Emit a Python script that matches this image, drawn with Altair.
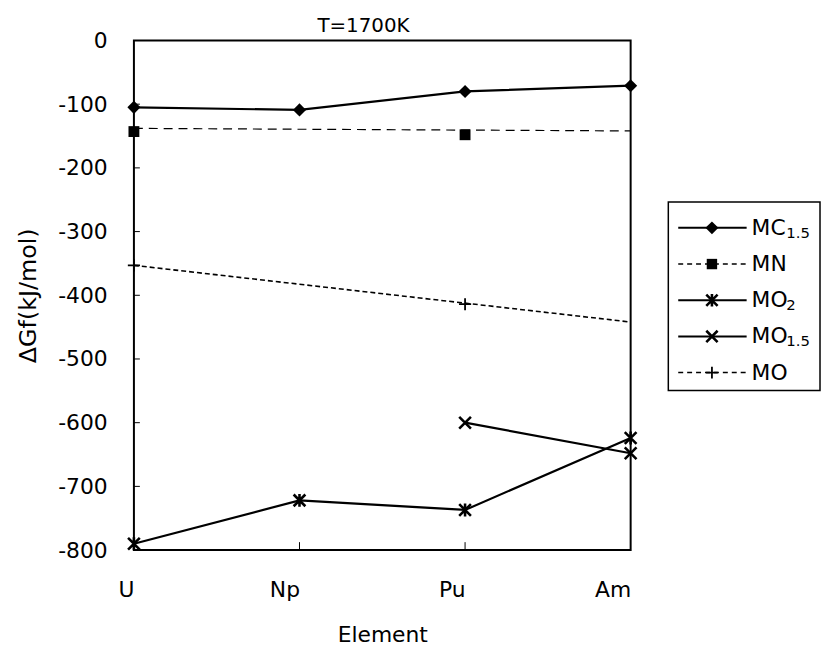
import altair as alt
import pandas as pd

# ---------------- data ----------------
categories = ["U", "Np", "Pu", "Am"]

mc15_values = [-105, -109, -80, -71]          # MC1.5 at U, Np, Pu, Am
mn_cats = ["U", "Pu"]
mn_values = [-143, -148]                      # MN markers
mn_line_cats = ["U", "Am"]
mn_line_values = [-138, -142]                 # MN dashed line
mo2_values = [-790, -722, -737, -624]         # MO2 at U, Np, Pu, Am
mo15_cats = ["Pu", "Am"]
mo15_values = [-600, -648]                    # MO1.5
mo_cats = ["U", "Pu"]
mo_values = [-353, -414]                      # MO markers
mo_line_cats = ["U", "Am"]
mo_line_values = [-353, -442]                 # MO dashed line

y_ticks = [-700, -600, -500, -400, -300, -200, -100]
x_tick_cats = ["Np", "Pu"]

legend_names = ["MC1.5", "MN", "MO2", "MO1.5", "MO"]
legend_main = ["MC", "MN", "MO", "MO", "MO"]
legend_sub = ["1.5", "", "2", "1.5", ""]

FONT = "DejaVu Sans"

# custom marker paths
X_PATH = "M-1,-1L1,1M-1,1L1,-1"
STAR_PATH = "M-1,-1L1,1M-1,1L1,-1M0,-1.1L0,1.1"
PLUS_PATH = "M-1,0L1,0M0,-1L0,1"

xenc = alt.X("cat:N", sort=categories,
             scale=alt.Scale(type="point", padding=0, domain=categories),
             axis=alt.Axis(title="Element", labelAngle=0, ticks=False, tickSize=0,
                           domain=False, labelFontSize=22, labelPadding=40,
                           titleFontSize=22, titleFontWeight="normal", titlePadding=24,
                           labelFont=FONT, titleFont=FONT, labelColor="black",
                           titleColor="black"))
yenc = alt.Y("v:Q",
             scale=alt.Scale(domain=[-800, 0], nice=False, zero=False),
             axis=alt.Axis(title="ΔGf(kJ/mol)", values=list(range(-800, 1, 100)),
                           labelExpr="toString(datum.value)", ticks=False, tickSize=0,
                           domain=False, grid=False, labelFontSize=22, labelPadding=27,
                           titleFontSize=24, titleFontWeight="normal", titlePadding=17,
                           labelFont=FONT, titleFont=FONT, labelColor="black",
                           titleColor="black"))


def df(cats, vals):
    return pd.DataFrame({"cat": cats, "v": vals})


def line_layer(data, width=2.2, dash=None):
    kw = dict(color="black", strokeWidth=width)
    if dash:
        kw["strokeDash"] = dash
    return alt.Chart(data).mark_line(**kw).encode(x=xenc, y=yenc)


def pt_layer(data, shape, size, filled, sw=2.0):
    if filled:
        m = alt.Chart(data).mark_point(shape=shape, size=size, filled=True,
                                       color="black", opacity=1)
    else:
        m = alt.Chart(data).mark_point(shape=shape, size=size, filled=False,
                                       color="black", strokeWidth=sw, opacity=1)
    return m.encode(x=xenc, y=yenc)


mc_df = df(categories, mc15_values)
mn_df = df(mn_cats, mn_values)
mnl_df = df(mn_line_cats, mn_line_values)
mo2_df = df(categories, mo2_values)
mo15_df = df(mo15_cats, mo15_values)
mo_df = df(mo_cats, mo_values)
mol_df = df(mo_line_cats, mo_line_values)

ytick_df = pd.DataFrame({"v": y_ticks})
xtick_df = pd.DataFrame({"cat": x_tick_cats})

main = alt.layer(
    alt.Chart(ytick_df).mark_rule(color="black", strokeWidth=1).encode(
        x=alt.value(0), x2=alt.value(6), y=alt.Y("v:Q", scale=alt.Scale(domain=[-800, 0], nice=False))),
    alt.Chart(xtick_df).mark_rule(color="black", strokeWidth=1).encode(
        x=alt.X("cat:N", sort=categories, scale=alt.Scale(type="point", padding=0, domain=categories)),
        y=alt.value(514), y2=alt.value(506)),
    line_layer(mnl_df, width=1.2, dash=[9, 6]),
    line_layer(mol_df, width=1.6, dash=[5, 3]),
    line_layer(mc_df),
    line_layer(mo2_df),
    line_layer(mo15_df),
    pt_layer(mc_df, "diamond", 175, True),
    pt_layer(mn_df, "square", 120, True),
    pt_layer(mo_df, PLUS_PATH, 150, False, 1.8),
    pt_layer(mo2_df, STAR_PATH, 140, False, 2.6),
    pt_layer(mo15_df, X_PATH, 140, False, 2.6),
)

# ---------------- legend ----------------
leg_df = pd.DataFrame({"name": legend_names, "main": legend_main, "sub": legend_sub})
ly = alt.Y("name:N", sort=legend_names,
           scale=alt.Scale(type="point", padding=0, domain=legend_names, range=[189, 335]),
           axis=None)
LX0, LX1, LM, LT = 549, 618, 583, 623


def leg_rows(names):
    return alt.Chart(leg_df).transform_filter(
        alt.FieldOneOfPredicate(field="name", oneOf=names))


box = alt.Chart(pd.DataFrame({"k": [0]})).mark_rect(
    fill="white", fillOpacity=0, stroke="black", strokeWidth=1.5).encode(
    x=alt.value(539), x2=alt.value(692), y=alt.value(163), y2=alt.value(353))

legend = alt.layer(
    box,
    leg_rows(["MC1.5", "MO2", "MO1.5"]).mark_rule(color="black", strokeWidth=2).encode(
        x=alt.value(LX0), x2=alt.value(LX1), y=ly),
    leg_rows(["MN", "MO"]).mark_rule(color="black", strokeWidth=1.5, strokeDash=[5, 4]).encode(
        x=alt.value(LX0), x2=alt.value(LX1), y=ly),
    leg_rows(["MC1.5"]).mark_point(shape="diamond", size=170, filled=True, color="black",
                                   opacity=1).encode(x=alt.value(LM), y=ly),
    leg_rows(["MN"]).mark_point(shape="square", size=110, filled=True, color="black",
                                opacity=1).encode(x=alt.value(LM), y=ly),
    leg_rows(["MO2"]).mark_point(shape=STAR_PATH, size=130, filled=False, color="black",
                                 strokeWidth=2.6, opacity=1).encode(x=alt.value(LM), y=ly),
    leg_rows(["MO1.5"]).mark_point(shape=X_PATH, size=130, filled=False, color="black",
                                   strokeWidth=2.6, opacity=1).encode(x=alt.value(LM), y=ly),
    leg_rows(["MO"]).mark_point(shape=PLUS_PATH, size=140, filled=False, color="black",
                                strokeWidth=1.8, opacity=1).encode(x=alt.value(LM), y=ly),
    alt.Chart(leg_df).mark_text(align="left", baseline="middle", fontSize=22, font=FONT,
                                color="black").encode(x=alt.value(LT), y=ly, text="main:N"),
    alt.Chart(leg_df).mark_text(align="left", baseline="middle", fontSize=15, font=FONT,
                                color="black", dx=35, dy=5).encode(x=alt.value(LT), y=ly,
                                                                   text="sub:N"),
)

chart = alt.layer(main, legend).resolve_scale(y="independent").properties(
    width=501, height=514,
    padding={"left": 9, "top": 5, "right": 0, "bottom": 0},
    title=alt.TitleParams("T=1700K", fontSize=20, fontWeight="normal", font=FONT,
                          color="black", anchor="middle", dx=-19, offset=-6),
).configure_view(stroke="black", strokeWidth=2).configure_axis(grid=False)

chart.save("out.html", embed_options={"renderer": "svg", "actions": False})
